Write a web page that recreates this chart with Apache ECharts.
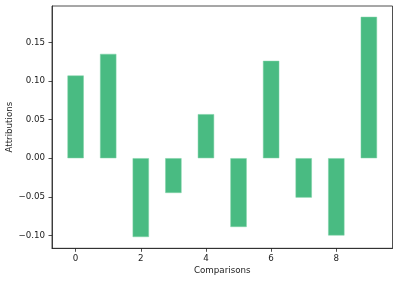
<!DOCTYPE html>
<html><head><meta charset="utf-8">
<script src="https://cdn.jsdelivr.net/npm/echarts@6/dist/echarts.min.js"></script>
<style>html,body{margin:0;padding:0;background:#fff}#c{width:399px;height:282px}</style>
</head><body><div id="c"></div>
<script>
const positions = [0,1,2,3,4,5,6,7,8,9];
const values = [0.107,0.135,-0.102,-0.045,0.057,-0.089,0.126,-0.051,-0.100,0.183];
const xTicks = [0,2,4,6,8];
const yTicks = [-0.10,-0.05,0.00,0.05,0.10,0.15];
const font = 'DejaVu Sans';
const fs = 8.7;
const chart = echarts.init(document.getElementById('c'));
chart.setOption({
  animation:false,
  grid:{left:52,right:6.5,top:6,bottom:33.7,containLabel:false,outerBoundsMode:'none',show:true,borderColor:'#222',borderWidth:0.8,backgroundColor:'transparent'},
  xAxis:{type:'value',min:-0.725,max:9.725,
    name:'Comparisons',nameLocation:'middle',nameGap:17.5,nameMoveOverlap:false,
    nameTextStyle:{fontFamily:font,fontSize:fs,color:'#222'},
    axisLine:{show:true,onZero:false,lineStyle:{color:'#222',width:0.8}},
    axisTick:{show:true,customValues:xTicks,length:3.5,inside:false,lineStyle:{color:'#222',width:0.8}},
    axisLabel:{customValues:xTicks,fontFamily:font,fontSize:fs,color:'#222',margin:5.5},
    splitLine:{show:false}},
  yAxis:{type:'value',min:-0.1166,max:0.197,
    name:'Attributions',nameLocation:'middle',nameGap:37.5,nameRotate:90,nameMoveOverlap:false,
    nameTextStyle:{fontFamily:font,fontSize:fs,color:'#222'},
    axisLine:{show:true,onZero:false,lineStyle:{color:'#222',width:0.8}},
    axisTick:{show:true,customValues:yTicks,length:3.5,lineStyle:{color:'#222',width:0.8}},
    axisLabel:{customValues:yTicks,fontFamily:font,fontSize:fs,color:'#222',margin:7,
      formatter:v=>(v<0?'\u2212':'')+Math.abs(v).toFixed(2)},
    splitLine:{show:false}},
  series:[{type:'bar',data:positions.map((p,i)=>[p,values[i]]),barWidth:16.3,
    itemStyle:{color:'#49bb82',borderColor:'#7fd3a6',borderWidth:0.5}}]
});
</script></body></html>
